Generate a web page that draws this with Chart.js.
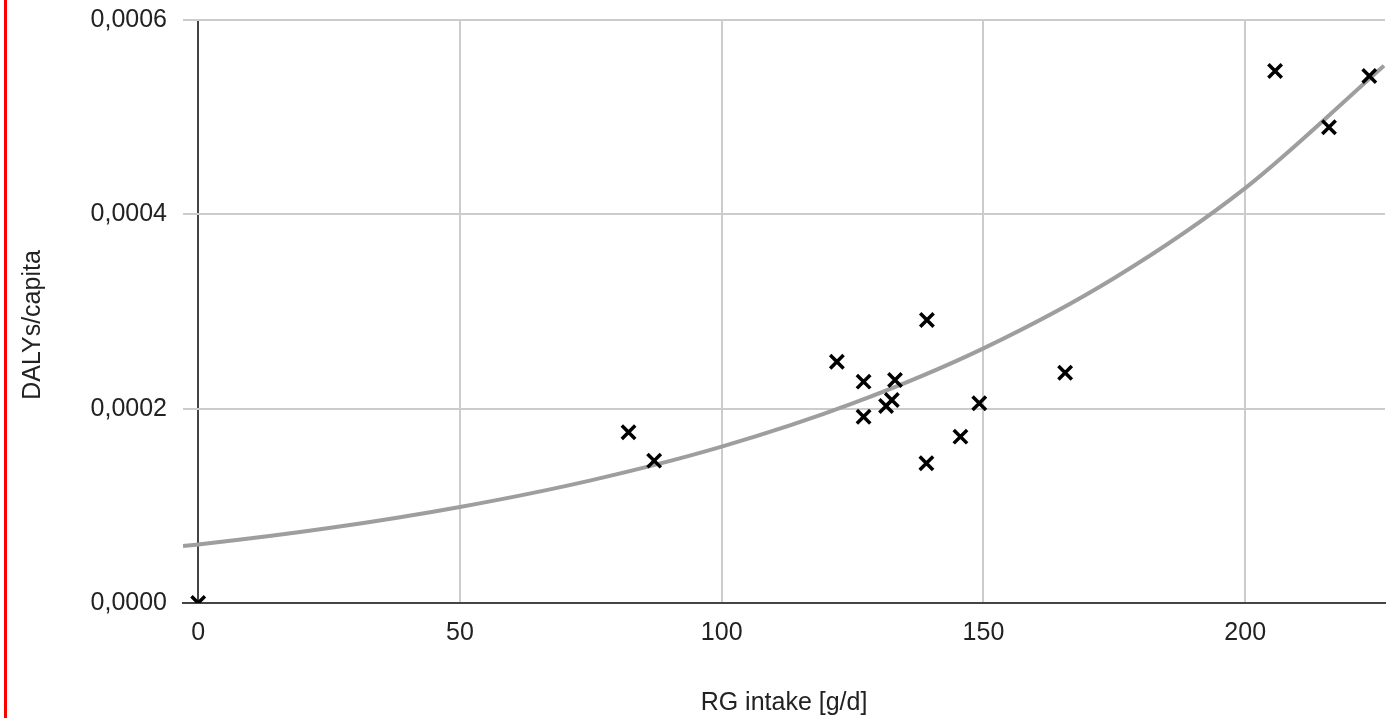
<!DOCTYPE html>
<html>
<head>
<meta charset="utf-8">
<script src="https://cdn.jsdelivr.net/npm/chart.js@4/dist/chart.umd.min.js"></script>
<style>
  html, body { margin: 0; padding: 0; background: #fff; overflow: hidden; }
  #wrap { position: relative; width: 1386px; height: 718px; overflow: hidden; }
  #dalyChart { display: block; }
  #redBar { position: absolute; left: 4px; top: 0; width: 3px; height: 718px; background: #ff0000; }
</style>
</head>
<body>
<div id="wrap">
  <!-- canvas is a bit wider than the page: Chart.js keeps room for the point markers on the right -->
  <canvas id="dalyChart" width="1398" height="718"></canvas>
  <div id="redBar"></div>
</div>
<script>
// RG intake [g/d] per country and DALYs/capita
const intake = [0, 82.2, 87.1, 122.0, 127.1, 127.1, 131.4, 132.5, 133.1, 139.2, 139.1, 145.6, 149.2, 165.6, 205.7, 216.0, 223.7];
const dalys = [0, 0.0001757, 0.0001465, 0.0002483, 0.0002278, 0.0001917, 0.0002028, 0.0002089, 0.0002295, 0.0002913, 0.0001438, 0.0001712, 0.0002055, 0.000237, 0.0005475, 0.0004896, 0.0005424];

// exponential trendline
const trendX = [-2.9, 0, 25, 50, 75, 100, 125, 150, 175, 200, 226.5];
const trendY = [0.0000587, 0.0000602, 0.0000771, 0.0000988, 0.0001262, 0.0001609, 0.0002054, 0.0002621, 0.0003345, 0.000427, 0.000553];

const xTicks = [0, 50, 100, 150, 200];
const yTicks = [0, 0.0002, 0.0004, 0.0006];

const axisFont = { family: "'Liberation Sans', Arial, sans-serif", size: 25 };

// y title sits a little below the middle of the axis in the original
const yTitlePlugin = {
  id: "yTitle",
  afterDraw(chart) {
    const c = chart.ctx;
    c.save();
    c.translate(33, 325);
    c.rotate(-Math.PI / 2);
    c.font = "25px 'Liberation Sans', Arial, sans-serif";
    c.fillStyle = "#222";
    c.textAlign = "center";
    c.textBaseline = "middle";
    c.fillText("DALYs/capita", 0, 0);
    c.restore();
  },
};

const ctx = document.getElementById("dalyChart").getContext("2d");

const chart = new Chart(ctx, {
  type: "scatter",
  data: {
    datasets: [
      {
        label: "DALYs/capita",
        data: intake.map((x, i) => ({ x: x, y: dalys[i] })),
        pointStyle: "crossRot",
        pointRadius: 9.5,
        pointHoverRadius: 9.5,
        pointBorderWidth: 3.5,
        borderColor: "#000",
        backgroundColor: "#000",
        clip: 0,
        order: 0,
      },
      {
        label: "Trend",
        data: trendX.map((x, i) => ({ x: x, y: trendY[i] })),
        showLine: true,
        pointRadius: 0,
        borderColor: "#9e9e9e",
        borderWidth: 4,
        cubicInterpolationMode: "monotone",
        clip: 0,
        order: 1,
      },
    ],
  },
  options: {
    responsive: false,
    animation: false,
    events: [],
    layout: { padding: { top: 20, right: 0, left: 0, bottom: 0 } },
    plugins: {
      legend: { display: false },
      tooltip: { enabled: false },
    },
    scales: {
      x: {
        type: "linear",
        min: -2.9,
        max: 226.7,
        afterBuildTicks: (axis) => {
          axis.ticks = xTicks.map((v) => ({ value: v }));
        },
        afterFit: (axis) => {
          axis.height = 115;
          axis.paddingLeft = 0;
          axis.paddingRight = 0;
        },
        border: { display: true, color: "#444", width: 2 },
        grid: {
          drawTicks: false,
          lineWidth: 2,
          color: (c) => (c.tick && c.tick.value === 0 ? "#444" : "#cccccc"),
        },
        ticks: {
          color: "#222",
          font: axisFont,
          padding: 15,
          maxRotation: 0,
          callback: (v) => String(v),
        },
        title: {
          display: true,
          text: "RG intake [g/d]",
          color: "#222",
          font: axisFont,
          padding: { top: 0, bottom: 0 },
        },
      },
      y: {
        type: "linear",
        min: 0,
        max: 0.0006,
        afterBuildTicks: (axis) => {
          axis.ticks = yTicks.map((v) => ({ value: v }));
        },
        afterFit: (axis) => {
          axis.width = 183;
          axis.paddingTop = 0;
          axis.paddingBottom = 0;
        },
        border: { display: false },
        grid: {
          drawTicks: false,
          lineWidth: 2,
          color: (c) => (c.tick && c.tick.value === 0 ? "#444" : "#cccccc"),
        },
        ticks: {
          color: "#222",
          font: axisFont,
          padding: 16,
          callback: (v) => v.toFixed(4).replace(".", ","),
        },
        title: { display: false },
      },
    },
  },
  plugins: [yTitlePlugin],
});
</script>
</body>
</html>
